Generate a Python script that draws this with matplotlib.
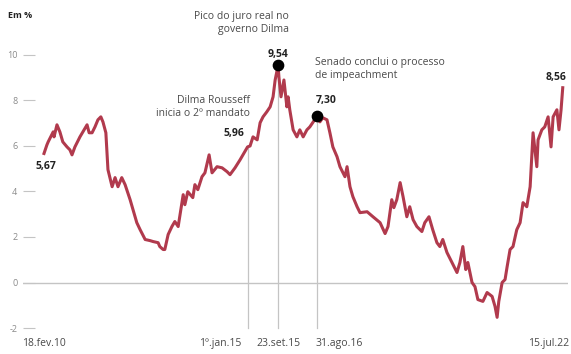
"""
Juro real (Em %) de 18.fev.10 a 15.jul.22, com marcos do governo Dilma.
"""
import matplotlib

matplotlib.use("Agg")
import matplotlib.pyplot as plt

# ---------------------------------------------------------------------------
# Data (x in decimal years, y in %)
# ---------------------------------------------------------------------------

years = [
    2010.13, 2010.20, 2010.23, 2010.35, 2010.37, 2010.44, 2010.51, 2010.58,
    2010.68, 2010.75, 2010.80, 2010.87, 2010.99, 2011.06, 2011.16, 2011.21,
    2011.28, 2011.35, 2011.42, 2011.49, 2011.54, 2011.61, 2011.66, 2011.76,
    2011.83, 2011.90, 2011.99, 2012.07, 2012.19, 2012.26, 2012.35, 2012.43,
    2012.55, 2012.67, 2012.74, 2012.86, 2012.90, 2012.98, 2013.02, 2013.10,
    2013.19, 2013.26, 2013.34, 2013.46, 2013.50, 2013.57, 2013.69, 2013.74,
    2013.81, 2013.91, 2013.98, 2014.08, 2014.15, 2014.27, 2014.39, 2014.51,
    2014.58, 2014.70, 2014.82, 2014.89, 2015.00, 2015.06, 2015.13, 2015.23,
    2015.30, 2015.37, 2015.46, 2015.54, 2015.61, 2015.66, 2015.73, 2015.75,
    2015.80, 2015.87, 2015.94, 2015.97, 2016.01, 2016.09, 2016.18, 2016.25,
    2016.33, 2016.42, 2016.49, 2016.66, 2016.73, 2016.80, 2016.90, 2016.97,
    2017.04, 2017.14, 2017.21, 2017.33, 2017.38, 2017.45, 2017.52, 2017.62,
    2017.69, 2017.86, 2018.00, 2018.17, 2018.29, 2018.36, 2018.45, 2018.50,
    2018.57, 2018.65, 2018.72, 2018.81, 2018.88, 2018.96, 2019.05, 2019.17,
    2019.24, 2019.34, 2019.43, 2019.53, 2019.60, 2019.67, 2019.77, 2019.89,
    2020.01, 2020.08, 2020.15, 2020.22, 2020.27, 2020.37, 2020.44, 2020.51,
    2020.63, 2020.73, 2020.85, 2020.92, 2020.97, 2021.01, 2021.09, 2021.16,
    2021.21, 2021.28, 2021.35, 2021.44, 2021.52, 2021.59, 2021.68, 2021.76,
    2021.83, 2021.92, 2021.95, 2022.04, 2022.11, 2022.19, 2022.26, 2022.31,
    2022.40, 2022.45, 2022.50, 2022.54,
]

juro_real = [
    5.67, 6.05, 6.18, 6.62, 6.40, 6.93, 6.62, 6.18,
    5.96, 5.83, 5.61, 5.96, 6.40, 6.62, 6.93, 6.58,
    6.58, 6.84, 7.15, 7.28, 7.06, 6.58, 4.96, 4.21,
    4.61, 4.21, 4.61, 4.30, 3.64, 3.20, 2.63, 2.32,
    1.89, 1.84, 1.80, 1.75, 1.58, 1.45, 1.45, 2.11,
    2.46, 2.68, 2.46, 3.86, 3.42, 3.99, 3.73, 4.30,
    4.08, 4.65, 4.82, 5.61, 4.82, 5.09, 5.04, 4.87,
    4.74, 5.04, 5.39, 5.61, 5.96, 6.00, 6.40, 6.27,
    7.02, 7.28, 7.50, 7.72, 8.16, 8.90, 9.54, 9.03,
    8.16, 8.90, 7.72, 8.16, 7.59, 6.71, 6.40, 6.71,
    6.40, 6.71, 6.84, 7.30, 7.06, 7.24, 7.15, 6.58,
    5.96, 5.53, 5.09, 4.65, 5.09, 4.21, 3.77, 3.33,
    3.07, 3.11, 2.89, 2.63, 2.15, 2.46, 3.64, 3.29,
    3.64, 4.39, 3.77, 2.89, 3.33, 2.76, 2.46, 2.24,
    2.63, 2.89, 2.32, 1.75, 1.58, 1.89, 1.32, 0.88,
    0.44, 0.88, 1.58, 0.57, 0.88, 0.00, -0.18, -0.75,
    -0.83, -0.44, -0.61, -1.05, -1.53, -0.83, 0.00, 0.13,
    0.70, 1.45, 1.58, 2.32, 2.63, 3.51, 3.33, 4.21,
    6.58, 5.09, 6.27, 6.71, 6.84, 7.28, 5.96, 7.28,
    7.59, 6.71, 7.59, 8.56,
]

y_ticks = [-2, 0, 2, 4, 6, 8, 10]

# marcos: início do 2º mandato, pico do juro, impeachment
event_years = [2015.00, 2015.73, 2016.66]
event_values = [5.96, 9.54, 7.30]

LINE_COLOR = "#b13a4d"
TEXT_COLOR = "#4a4a4a"
GRID_COLOR = "#c4c4c4"

plt.rcParams["font.family"] = ["Open Sans", "DejaVu Sans"]

fig = plt.figure(figsize=(5.71, 3.54), dpi=100)
ax = fig.add_axes([23 / 571, 1 - 340 / 354, 545 / 571, 310 / 354])

x_min = 2010.13 - (44 - 23) / 41.8
x_max = x_min + 545 / 41.8
ax.set_xlim(x_min, x_max)
ax.set_ylim(-2 - 12 / 22.8, 10 + 25 / 22.8)

for s in ax.spines.values():
    s.set_visible(False)

ax.axhline(0, color=GRID_COLOR, lw=1, zorder=1)
for ex, ev in zip(event_years, event_values):
    ax.plot([ex, ex], [-2, ev], color=GRID_COLOR, lw=0.9, zorder=1)

ax.plot(years, juro_real, color=LINE_COLOR, lw=2.2, zorder=2,
        solid_joinstyle="round")
ax.scatter(event_years[1:], event_values[1:], s=55, color="black", zorder=3)

ax.set_yticks(y_ticks)
ax.set_yticklabels([str(t) for t in y_ticks])
ax.tick_params(axis="y", direction="in", length=8.5, width=0.8,
               color=GRID_COLOR, labelcolor="#8a8a8a", labelsize=6.5, pad=4)
ax.set_xticks([])

# rótulos do eixo x
date_labels = [
    (2010.13, "18.fev.10", "center"),
    (2015.00 - 0.15, "1º.jan.15", "right"),
    (2015.73, "23.set.15", "center"),
    (2016.66 - 0.04, "31.ago.16", "left"),
    (2022.70, "15.jul.22", "right"),
]
for xd, lab, ha in date_labels:
    ax.text(xd, -2.68, lab, ha=ha, va="center", fontsize=7.5,
            color=TEXT_COLOR)

fig.text(8 / 571, 1 - 15 / 354, "Em %", fontsize=6.5, fontweight="bold",
         color="#222222", va="center")

bold = dict(fontsize=7.5, fontweight="bold", color="#222222")
note = dict(fontsize=7.5, color=TEXT_COLOR, linespacing=1.25)

ax.text(2010.13 - 0.2, 5.67 - 0.55, "5,67", ha="left", va="center", **bold)
ax.text(2015.0 - 0.08, 5.96 + 0.6, "5,96", ha="right", va="center", **bold)
ax.text(2015.73, 9.54 + 0.5, "9,54", ha="center", va="center", **bold)
ax.text(2016.66 - 0.02, 7.30 + 0.72, "7,30", ha="left", va="center", **bold)
ax.text(2022.54 + 0.08, 8.56 + 0.45, "8,56", ha="right", va="center",
        **bold)

ax.text(2015.0 + 0.05, 7.7, "Dilma Rousseff\ninicia o 2º mandato",
        ha="right", va="center", **note)
ax.text(2016.0, 11.4, "Pico do juro real no\ngoverno Dilma",
        ha="right", va="center", **note)
ax.text(2016.62, 9.4, "Senado conclui o processo\nde impeachment",
        ha="left", va="center", **note)

fig.savefig("out.png", dpi=100)
